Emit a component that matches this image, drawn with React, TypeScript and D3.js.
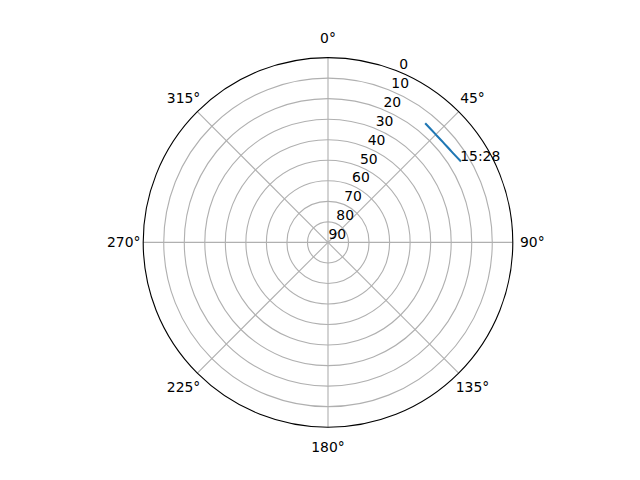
import { useEffect, useRef } from "react";
import * as d3 from "d3";

// Pass track: azimuth (deg, clockwise from north) and elevation (deg)
const azimuth = [39.6, 44.4, 48.9, 53.7, 58.3];
const elevation = [15.2, 15.7, 15.7, 15.3, 14.3];
const passLabel = "15:28";

const thetaTicks = [0, 45, 90, 135, 180, 225, 270, 315];
const radialTicks = [0, 10, 20, 30, 40, 50, 60, 70, 80, 90];

const W = 640;
const H = 480;
const FONT = "'DejaVu Sans', sans-serif";
const PT = 100 / 72; // points → px at 100 dpi

export default function App() {
  const svgRef = useRef<SVGSVGElement>(null);

  useEffect(() => {
    if (!svgRef.current) return;
    const svg = d3.select(svgRef.current);
    svg.selectAll("*").remove();

    // matplotlib default subplot box
    const left = 0.125 * W;
    const right = 0.9 * W;
    const top = (1 - 0.88) * H;
    const bottom = (1 - 0.11) * H;
    const cx = (left + right) / 2;
    const cy = (top + bottom) / 2;
    const R = Math.min(right - left, bottom - top) / 2;

    // inverted radial axis: 90 at centre, 0 at the rim
    const r = d3.scaleLinear().domain([90, 0]).range([0, R]);
    const theta = d3.scaleLinear().domain([0, 360]).range([0, 2 * Math.PI]);

    const px = (a: number, v: number) => cx + r(v) * Math.sin(theta(a));
    const py = (a: number, v: number) => cy - r(v) * Math.cos(theta(a));

    svg.append("rect").attr("width", W).attr("height", H).attr("fill", "#fff");

    const g = svg.append("g");

    // ── Radial grid circles ──
    g.selectAll("circle.grid")
      .data(radialTicks.filter((t) => t > 0 && t < 90))
      .join("circle")
      .attr("class", "grid")
      .attr("cx", cx)
      .attr("cy", cy)
      .attr("r", (d) => r(d))
      .attr("fill", "none")
      .attr("stroke", "#b0b0b0")
      .attr("stroke-width", 0.8 * PT);

    // ── Angular spokes ──
    g.selectAll("line.spoke")
      .data(thetaTicks)
      .join("line")
      .attr("class", "spoke")
      .attr("x1", cx)
      .attr("y1", cy)
      .attr("x2", (d) => px(d, 0))
      .attr("y2", (d) => py(d, 0))
      .attr("stroke", "#b0b0b0")
      .attr("stroke-width", 0.8 * PT);

    // ── Pass track ──
    const pts = azimuth.map((a, i) => [a, elevation[i]] as [number, number]);
    const line = d3
      .lineRadial<[number, number]>()
      .angle((d) => theta(d[0]))
      .radius((d) => r(d[1]))
      .curve(d3.curveCatmullRom);

    g.append("path")
      .attr("transform", `translate(${cx},${cy})`)
      .attr("d", line(pts))
      .attr("fill", "none")
      .attr("stroke", "#1f77b4")
      .attr("stroke-width", 1.5 * PT)
      .attr("stroke-linecap", "square");

    const last = pts[pts.length - 1];
    g.append("text")
      .attr("x", px(last[0], last[1]))
      .attr("y", py(last[0], last[1]))
      .attr("font-family", FONT)
      .attr("font-size", 13.9)
      .attr("fill", "#000")
      .text(passLabel);

    // ── Outer spine ──
    g.append("circle")
      .attr("cx", cx)
      .attr("cy", cy)
      .attr("r", R)
      .attr("fill", "none")
      .attr("stroke", "#000")
      .attr("stroke-width", 0.8 * PT);

    // ── Theta labels ──
    g.selectAll("text.theta")
      .data(thetaTicks)
      .join("text")
      .attr("class", "theta")
      .attr("x", (d) => cx + (R + 19.5) * Math.sin(theta(d)))
      .attr("y", (d) => cy - (R + 19.5) * Math.cos(theta(d)))
      .attr("text-anchor", "middle")
      .attr("dominant-baseline", "central")
      .attr("font-family", FONT)
      .attr("font-size", 13.9)
      .attr("fill", "#000")
      .text((d) => `${d}°`);

    // ── Radial labels at 22.5° ──
    g.selectAll("text.rlab")
      .data(radialTicks)
      .join("text")
      .attr("class", "rlab")
      .attr("x", (d) => px(22.5, d) + 0.5)
      .attr("y", (d) => py(22.5, d) - 3)
      .attr("font-family", FONT)
      .attr("font-size", 13.9)
      .attr("fill", "#000")
      .text((d) => d);
  }, []);

  return (
    <svg
      ref={svgRef}
      width={W}
      height={H}
      style={{ position: "absolute", left: 0, top: 0 }}
    />
  );
}
